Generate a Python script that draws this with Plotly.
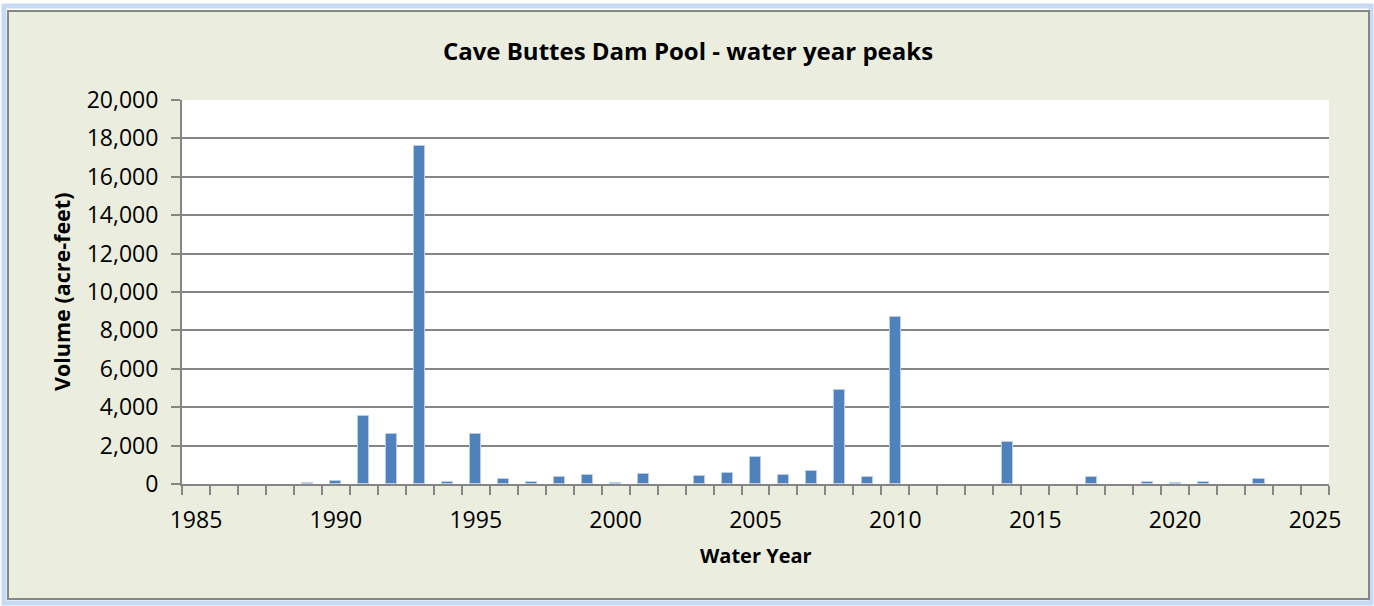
import plotly.graph_objects as go

# water year peaks (acre-feet)
years = list(range(1985, 2026))
volume = [0, 0, 0, 0, 40, 170, 3540, 2620, 17590, 100,
          2620, 280, 120, 380, 470, 40, 520, 0, 430, 560,
          1420, 470, 680, 4900, 360, 8680, 0, 0, 0, 2170,
          0, 0, 365, 0, 100, 50, 100, 0, 270, 0,
          0]
tick_years = [1985, 1990, 1995, 2000, 2005, 2010, 2015, 2020, 2025]

W, H = 1374, 606
L, R, T, B = 182, 45, 100, 122
pw, ph = W - L - R, H - T - B


def px(x):
    return (x - L) / pw


def py(y):
    return (H - B - y) / ph


font = "Open Sans, Lato, sans-serif"
grey = "#868686"

fig = go.Figure()
fig.add_trace(go.Bar(
    x=years, y=volume, width=0.4,
    marker=dict(color="#4F81BD",
                line=dict(color="#B9CDE5",
                          width=[1 if v > 0 else 0 for v in volume])),
))

shapes = [
    # blue glow round the chart frame
    dict(type="rect", xref="paper", yref="paper", layer="below",
         x0=px(4), x1=px(1371), y0=py(603), y1=py(6),
         line=dict(color="#C6DAF5", width=5), fillcolor="rgba(0,0,0,0)"),
    # chart area
    dict(type="rect", xref="paper", yref="paper", layer="below",
         x0=px(8), x1=px(1369), y0=py(599), y1=py(11),
         line=dict(color=grey, width=2), fillcolor="#EBEEDF"),
    # plot area
    dict(type="rect", xref="paper", yref="paper", layer="below",
         x0=0, x1=1, y0=0, y1=1, line=dict(width=0), fillcolor="white"),
]

fig.update_layout(
    width=W, height=H, autosize=False,
    margin=dict(l=L, r=R, t=T, b=B),
    paper_bgcolor="white", plot_bgcolor="rgba(0,0,0,0)",
    showlegend=False, bargap=0,
    font=dict(family=font, size=23, color="black"),
    shapes=shapes,
    title=dict(text="<b>Cave Buttes Dam Pool - water year peaks</b>",
               x=688 / W, xref="container", xanchor="center",
               y=1 - 52 / H, yref="container", yanchor="middle",
               font=dict(family=font, size=24, color="black")),
    annotations=[
        dict(text="<b>Volume (acre-feet)</b>", textangle=-90,
             xref="paper", yref="paper", x=px(61), y=0.5,
             xanchor="center", yanchor="middle", showarrow=False,
             font=dict(family=font, size=21.5, color="black")),
        dict(text="<b>Water Year</b>",
             xref="paper", yref="paper", x=0.5, y=py(555),
             xanchor="center", yanchor="middle", showarrow=False,
             font=dict(family=font, size=20, color="black")),
    ],
)

fig.update_xaxes(
    range=[1984.5, 2025.5], tickvals=tick_years,
    ticks="outside", ticklen=14, tickcolor="rgba(0,0,0,0)",
    minor=dict(ticks="outside", ticklen=9, tickcolor=grey, tickwidth=2,
               tick0=1984.5, dtick=1),
    showline=True, linecolor=grey, linewidth=2,
    showgrid=False, zeroline=False,
    tickfont=dict(family=font, size=23, color="black"),
)
fig.update_yaxes(
    range=[0, 20000], dtick=2000, tickformat=",",
    ticks="outside", ticklen=9, tickcolor=grey, tickwidth=2,
    showline=True, linecolor=grey, linewidth=2,
    showgrid=True, gridcolor=grey, gridwidth=2,
    zeroline=False, ticklabelstandoff=8,
    tickfont=dict(family=font, size=23, color="black"),
)

# the page body has a default 8px margin; drop it so the figure sits at 0,0
fig.write_html("out.html", config={"displayModeBar": False},
               post_script="document.body.style.margin='0';")
